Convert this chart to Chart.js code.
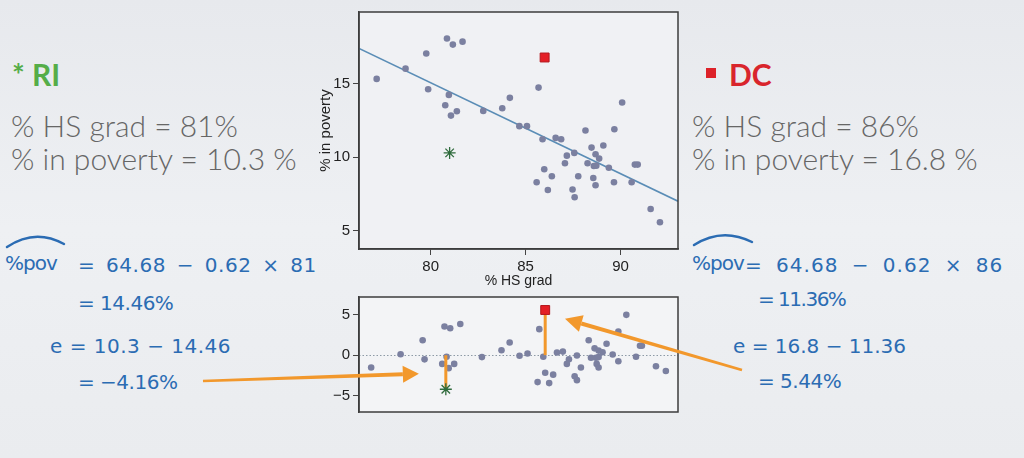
<!DOCTYPE html>
<html><head><meta charset="utf-8">
<script src="https://cdn.jsdelivr.net/npm/chart.js@4.4.1/dist/chart.umd.min.js"></script>
<style>
html,body{margin:0;padding:0;}
body{width:1024px;height:458px;overflow:hidden;position:relative;
 background:linear-gradient(180deg,#e7e9ed 0%,#eef0f3 50%,#eaecef 100%);font-family:Lato,sans-serif;}
.t{position:absolute;white-space:pre;line-height:1.2;}
.slide{font-size:30px;color:#666;font-weight:300;}
.hand{position:absolute;white-space:pre;font-family:"DejaVu Sans";font-weight:400;font-size:20px;color:#2b6cb3;letter-spacing:0px;line-height:24px;}
.cv{position:absolute;}
</style></head><body>

<div class="t" style="left:12px;top:56px;font-size:30px;font-weight:700;color:#55ad48;">* RI</div>
<div class="t slide" style="left:11px;top:107px;">% HS grad = 81%</div>
<div class="t slide" style="left:11px;top:140px;">% in poverty = 10.3 %</div>

<div style="position:absolute;left:706px;top:68px;width:10px;height:10px;background:#dd2229;"></div>
<div class="t" style="left:729px;top:56px;font-size:30px;font-weight:700;color:#d9252c;">DC</div>
<div class="t slide" style="left:692px;top:107px;">% HS grad = 86%</div>
<div class="t slide" style="left:692px;top:140px;">% in poverty = 16.8 %</div>

<div class="hand" style="left:5px;top:251px;letter-spacing:-1px;">%pov</div>
<div class="hand" style="left:78px;top:253px;letter-spacing:0.5px;word-spacing:4px;">= 64.68 − 0.62 × 81</div>
<div class="hand" style="left:78px;top:291px;letter-spacing:-0.5px;">= 14.46%</div>
<div class="hand" style="left:50px;top:334px;letter-spacing:0.5px;">e = 10.3 − 14.46</div>
<div class="hand" style="left:78px;top:370px;letter-spacing:-0.5px;">= −4.16%</div>

<div class="hand" style="left:692px;top:251px;letter-spacing:-1px;">%pov</div>
<div class="hand" style="left:745px;top:253px;letter-spacing:1px;word-spacing:6px;">= 64.68 − 0.62 × 86</div>
<div class="hand" style="left:758px;top:287px;letter-spacing:-1.5px;">= 11.36%</div>
<div class="hand" style="left:733px;top:334px;letter-spacing:0px;">e = 16.8 − 11.36</div>
<div class="hand" style="left:758px;top:369px;letter-spacing:-0.5px;">= 5.44%</div>

<svg style="position:absolute;left:0;top:0;" width="1024" height="458">
 <path d="M7 247 Q 35 228 64 244" fill="none" stroke="#2b6cb3" stroke-width="2.5" stroke-linecap="round"/>
 <path d="M694 245 Q 722 227 752 242" fill="none" stroke="#2b6cb3" stroke-width="2.5" stroke-linecap="round"/>
</svg>

<canvas id="top" class="cv" width="390" height="300" style="left:300px;top:0px;"></canvas>
<canvas id="res" class="cv" width="390" height="140" style="left:300px;top:285px;"></canvas>
<canvas id="ov" class="cv" width="1024" height="458" style="left:0;top:0;pointer-events:none;"></canvas>

<script>
// ---- data ----
const hsGrad = [77.16,78.68,79.77,80.86,81.17,81.68,79.87,80.96,80.77,81.07,81.38,82.77,83.77,84.17,84.67,85.07,85.68,
  85.89,86.58,86.87,88.15,88.47,89.09,89.67,90.08,87.17,87.56,88.68,88.87,87.07,88.26,88.59,88.72,89.38,90.75,90.90,
  85.98,86.38,87.77,88.56,85.58,89.65,90.58,88.68,86.17,87.47,87.58,91.58,92.07];
const poverty = [15.34,16.04,17.07,18.09,17.68,17.88,14.64,14.25,13.55,12.84,13.14,13.16,13.34,14.05,12.12,12.12,14.75,
  11.23,11.32,11.23,11.82,10.66,10.80,11.91,13.73,10.11,10.30,10.21,9.91,9.59,9.59,9.41,9.43,9.29,9.50,9.50,
  9.18,8.71,8.71,8.59,8.30,8.30,8.30,8.09,7.77,7.80,7.28,6.48,5.57];
const resX = [76.87,78.42,79.58,79.68,80.73,81.03,81.56,80.84,80.61,80.95,81.24,82.70,83.73,84.16,84.68,85.10,85.72,
  85.93,86.03,85.63,86.24,86.45,86.65,86.96,87.28,87.17,87.70,87.91,87.58,87.70,88.32,88.63,88.84,89.05,89.26,
  88.44,88.70,88.84,88.74,88.84,89.58,89.88,89.88,90.30,90.81,91.02,91.12,91.86,92.38];
const resY = [-1.52,0.12,1.84,-0.52,3.52,3.32,3.84,-0.20,-1.08,-1.60,-1.08,-0.24,0.60,1.56,-0.08,0.20,3.20,
  -0.20,-2.16,-3.32,-3.44,-2.40,0.32,0.44,-0.52,-1.08,-0.04,-1.52,-2.60,-3.08,1.84,0.84,0.56,0.36,1.40,
  -0.32,-0.32,-0.24,-1.08,-1.52,0.08,-0.76,2.92,4.96,-0.20,1.16,1.16,-1.36,-1.96];
const fitX = [76.23, 93.02];
const fitY = [17.42, 7.01];
const riPoint = [81, 10.3];
const dcPoint = [86, 16.8];
const riResid = [80.8, -4.2];
const dcResid = [86.03, 5.56];
const xTicks = [80, 85, 90];
const yTicks = [5, 10, 15];
const resTicks = [-5, 0, 5];

const pts = (xs, ys) => xs.map((x, i) => ({x, y: ys[i]}));
const ORANGE = '#f2982c';

const frame = {
  id: 'frame',
  beforeDraw(chart, args, opts) {
    const {ctx, chartArea: a} = chart;
    ctx.save(); ctx.fillStyle = opts.bg; ctx.fillRect(a.left, a.top, a.width, a.height); ctx.restore();
  },
  beforeDatasetsDraw(chart, args, opts) {
    if (!opts.zero) return;
    const {ctx, chartArea: a} = chart;
    const y = Math.round(chart.scales.y.getPixelForValue(0)) + 0.5;
    ctx.save(); ctx.strokeStyle = '#8d9aa6'; ctx.lineWidth = 1; ctx.setLineDash([1.5, 2]);
    ctx.beginPath(); ctx.moveTo(a.left, y); ctx.lineTo(a.right, y); ctx.stroke(); ctx.restore();
  },
  afterDraw(chart) {
    const {ctx, chartArea: a} = chart;
    ctx.save(); ctx.strokeStyle = '#3d3d3d'; ctx.lineWidth = 1.5;
    ctx.strokeRect(a.left, a.top, a.width, a.height); ctx.restore();
  }
};

const tickFont = {family: 'Liberation Sans', size: 15};
const xTitleFont = {family: 'Liberation Sans', size: 14};
const yTitleFont = {family: 'Liberation Sans', size: 15};
function axis(min, max, ticks, extra) {
  return Object.assign({
    type: 'linear', min, max,
    afterBuildTicks(s) { s.ticks = ticks.map(v => ({value: v})); },
    ticks: {color: '#222', font: tickFont, padding: 3, callback: v => v < 0 ? '−' + Math.abs(v) : String(v)},
    grid: {drawOnChartArea: false, drawTicks: true, tickLength: 6, color: '#444', lineWidth: 1},
    border: {display: true, color: '#3d3d3d', width: 1.5}
  }, extra);
}

const common = {
  responsive: false, animation: false, events: [],
  plugins: {legend: {display: false}, tooltip: {enabled: false}}
};

const topChart = new Chart(document.getElementById('top'), {
  type: 'scatter',
  data: {datasets: [
    {data: pts(fitX, fitY), showLine: true, borderColor: '#5a8db6', borderWidth: 1.6, pointRadius: 0, order: 3},
    {data: pts(hsGrad, poverty), backgroundColor: '#7b80a0', borderWidth: 0, pointRadius: 3.3, order: 2},
    {data: [{x: dcPoint[0], y: dcPoint[1]}], pointStyle: 'rect', pointRadius: 6.3, backgroundColor: '#e41f26', borderColor: '#b3161c', borderWidth: 1, order: 1},
    {data: [{x: riPoint[0], y: riPoint[1]}], pointStyle: 'star', pointRadius: 6, borderColor: '#2f6b3c', borderWidth: 1.3, order: 1}
  ]},
  options: Object.assign({}, common, {
    layout: {padding: {top: 12, right: 12, left: 0, bottom: 0}},
    plugins: Object.assign({}, common.plugins, {frame: {bg: '#f0f1f4', zero: false}}),
    scales: {
      x: axis(76.23, 93.02, xTicks, {
        afterFit(s) { s.height = 51; },
        title: {display: true, text: '% HS grad', color: '#222', font: xTitleFont, padding: {top: 0, bottom: 10}}
      }),
      y: axis(3.75, 19.9, yTicks, {
        afterFit(s) { s.width = 59; },
        title: {display: true, text: '% in poverty', color: '#222', font: yTitleFont, padding: {top: 17, bottom: 0}}
      })
    }
  }),
  plugins: [frame]
});

const resChart = new Chart(document.getElementById('res'), {
  type: 'scatter',
  data: {datasets: [
    {data: [{x: riResid[0], y: 0}, {x: riResid[0], y: riResid[1]}], showLine: true, borderColor: ORANGE, borderWidth: 3, pointRadius: 0, order: 1},
    {data: [{x: dcResid[0], y: 0}, {x: dcResid[0], y: dcResid[1]}], showLine: true, borderColor: ORANGE, borderWidth: 3, pointRadius: 0, order: 1},
    {data: pts(resX, resY), backgroundColor: '#7b80a0', borderWidth: 0, pointRadius: 3.3, order: 2},
    {data: [{x: dcResid[0], y: dcResid[1]}], pointStyle: 'rect', pointRadius: 6.3, backgroundColor: '#e41f26', borderColor: '#b3161c', borderWidth: 1, order: 0},
    {data: [{x: riResid[0], y: riResid[1]}], pointStyle: 'star', pointRadius: 6, borderColor: '#2f6b3c', borderWidth: 1.3, order: 0}
  ]},
  options: Object.assign({}, common, {
    layout: {padding: {top: 9, right: 12, left: 0, bottom: 13}},
    plugins: Object.assign({}, common.plugins, {frame: {bg: '#f3f4f6', zero: true}}),
    scales: {
      x: axis(76.23, 93.02, xTicks, {display: false}),
      y: axis(-7.0, 7.16, resTicks, {afterFit(s) { s.width = 59; }})
    }
  }),
  plugins: [frame]
});

// ---- annotation arrows (tips anchored to the residual chart's scales) ----
const ov = document.getElementById('ov').getContext('2d');
const rx = v => 300 + resChart.scales.x.getPixelForValue(v);
const ry = v => 285 + resChart.scales.y.getPixelForValue(v);
function arrow(x0, y0, x1, y1, w0, w1, hl, hw) {
  const dx = x1 - x0, dy = y1 - y0, L = Math.hypot(dx, dy), ux = dx / L, uy = dy / L, nx = -uy, ny = ux;
  const bx = x1 - ux * hl, by = y1 - uy * hl;
  ov.fillStyle = ORANGE;
  ov.beginPath();
  ov.moveTo(x0 + nx * w0 / 2, y0 + ny * w0 / 2);
  ov.lineTo(bx + nx * w1 / 2, by + ny * w1 / 2);
  ov.lineTo(bx - nx * w1 / 2, by - ny * w1 / 2);
  ov.lineTo(x0 - nx * w0 / 2, y0 - ny * w0 / 2);
  ov.closePath(); ov.fill();
  ov.beginPath();
  ov.moveTo(x1, y1);
  ov.lineTo(bx + nx * hw, by + ny * hw);
  ov.lineTo(bx - nx * hw, by - ny * hw);
  ov.closePath(); ov.fill();
}
arrow(203, 381, rx(79.38), ry(-2.28), 2.5, 4, 16, 8.5);
arrow(742, 370, rx(87.07), ry(4.48), 2.5, 4, 17, 8.5);
</script>
</body></html>
